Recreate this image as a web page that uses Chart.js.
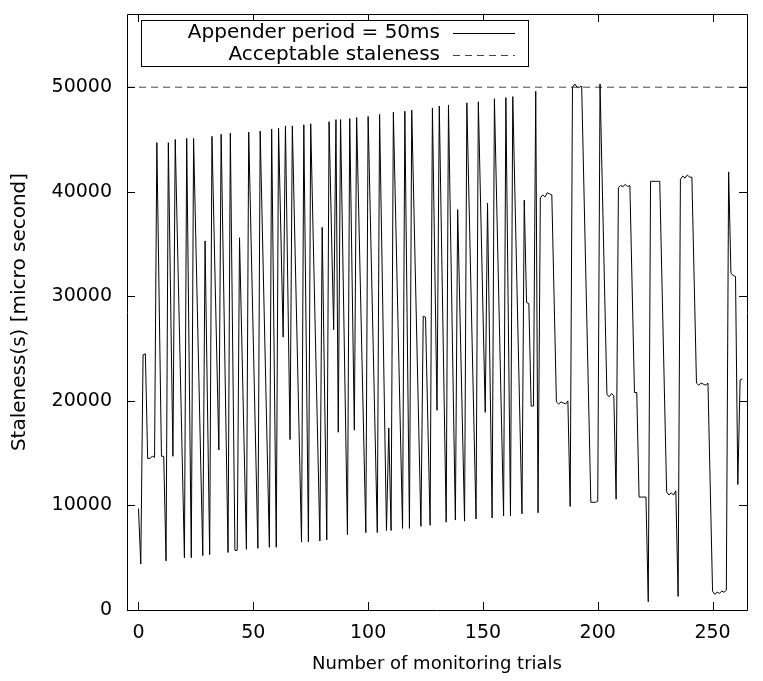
<!DOCTYPE html>
<html>
<head>
<meta charset="utf-8">
<title>Staleness</title>
<script src="https://cdn.jsdelivr.net/npm/chart.js@4.4.1/dist/chart.umd.min.js"></script>
<style>
  html, body { margin: 0; padding: 0; background: #fff; }
</style>
</head>
<body>
<canvas id="stalenessChart" width="763" height="681"></canvas>
<script>
// --------------------- DATA ------------------------
// turning points of the measured staleness curve (trial number -> micro seconds)
const trials = [
    0, 1, 2, 3, 4, 5, 6, 7, 8, 10, 11, 12, 13, 15, 16, 20, 21, 23, 24, 28,
    29, 31, 32, 35, 36, 39, 40, 42, 43, 44, 47, 48, 52, 53, 57, 58, 60, 61, 63, 64,
    66, 67, 71, 72, 74, 75, 79, 80, 82, 83, 85, 86, 87, 88, 91, 92, 94, 95, 99, 100,
    104, 105, 108, 109, 110, 111, 115, 116, 118, 119, 123, 124, 125, 127, 128, 130, 131, 134, 135, 138,
    139, 142, 143, 147, 148, 151, 152, 154, 155, 159, 160, 162, 163, 167, 168, 169, 170, 171, 172, 173,
    174, 175, 176, 177, 178, 179, 180, 182, 183, 184, 185, 186, 187, 188, 189, 190, 191, 192, 193, 197,
    198, 199, 200, 201, 204, 205, 206, 207, 208, 209, 210, 211, 212, 213, 214, 216, 217, 218, 219, 220,
    221, 222, 223, 224, 225, 226, 227, 230, 231, 232, 233, 234, 235, 236, 237, 238, 239, 240, 241, 243,
    244, 245, 246, 247, 248, 250, 251, 252, 253, 254, 255, 256, 257, 258, 259, 260, 261, 262, 263
];
const staleness = [
    9700, 4400, 24400, 24500, 14500, 14500, 14700, 14600, 44700, 14700, 14700, 4700, 44700, 14700, 45000, 5000, 45100, 5000, 45100, 5200,
    35300, 5300, 45300, 15300, 45500, 5500, 45600, 5700, 5700, 35600, 5800, 45700, 5900, 45800, 6000, 46000, 6000, 46100, 26100, 46300,
    16300, 46300, 6500, 46400, 6500, 46500, 6600, 36600, 6700, 46700, 26800, 46900, 17000, 46900, 7200, 47000, 17200, 47100, 7400, 47200,
    7400, 47400, 7600, 17400, 7600, 47600, 7800, 47700, 7800, 47800, 8000, 28100, 28000, 8100, 48000, 19100, 48200, 8400, 48300, 8600,
    38300, 8500, 48500, 8700, 48600, 18900, 38900, 8800, 48900, 9000, 49000, 9000, 49100, 9200, 39200, 29400, 29300, 19500, 19500, 49600,
    9300, 39400, 39700, 39500, 39900, 39800, 39700, 19900, 19700, 19900, 19800, 19700, 20000, 9900, 50000, 50300, 50000, 50000, 50100, 10300,
    10300, 10300, 10400, 50300, 20600, 20400, 20700, 20500, 10600, 40400, 40600, 40500, 40700, 40500, 40600, 20800, 20800, 10800, 10800, 10800,
    10800, 800, 41000, 41000, 41000, 41000, 41000, 11300, 11000, 11200, 11000, 11400, 1300, 41200, 41500, 41300, 41600, 41400, 41400, 21700,
    21500, 21700, 21600, 21500, 21700, 1800, 1500, 1700, 1600, 1800, 1700, 1900, 41900, 32200, 32000, 31900, 12000, 22000, 22100
];
const acceptableStaleness = 50000;

const xRange = [-5, 265];
const yRange = [0, 57000];
const xTicks = [0, 50, 100, 150, 200, 250];
const yTicks = [0, 10000, 20000, 30000, 40000, 50000];

const FAMILY = '"DejaVu Sans", Verdana, sans-serif';
const TICK_FONT = { family: FAMILY, size: 19 };
const KEY_FONT = { family: FAMILY, size: 20 };
const X_TITLE_FONT = { family: FAMILY, size: 18 };
const Y_TITLE_FONT = { family: FAMILY, size: 20 };

// --------------------- GNUPLOT STYLE FRAME + KEY ------------------------
const gnuplotFrame = {
    id: 'gnuplotFrame',
    afterDatasetsDraw(chart) {
        const { ctx, chartArea: a, scales } = chart;
        const tick = 8;
        ctx.save();
        ctx.strokeStyle = '#000';
        ctx.lineWidth = 1;
        ctx.beginPath();
        ctx.rect(a.left + 0.5, a.top + 0.5, a.right - a.left, a.bottom - a.top);
        // ticks on all four sides, pointing inward
        scales.x.ticks.forEach(t => {
            let px = Math.round(scales.x.getPixelForValue(t.value)) + 0.5;
            ctx.moveTo(px, a.bottom); ctx.lineTo(px, a.bottom - tick);
            ctx.moveTo(px, a.top); ctx.lineTo(px, a.top + tick);
        });
        scales.y.ticks.forEach(t => {
            let py = Math.round(scales.y.getPixelForValue(t.value)) + 0.5;
            ctx.moveTo(a.left, py); ctx.lineTo(a.left + tick, py);
            ctx.moveTo(a.right, py); ctx.lineTo(a.right - tick, py);
        });
        ctx.stroke();

        // key box in the upper left corner
        const bx = a.left + 14, by = a.top + 6, bw = 387, bh = 46;
        ctx.fillStyle = '#fff';
        ctx.fillRect(bx, by, bw, bh);
        ctx.strokeRect(bx + 0.5, by + 0.5, bw, bh);
        ctx.font = KEY_FONT.size + 'px ' + FAMILY;
        ctx.textAlign = 'right';
        ctx.textBaseline = 'middle';
        ctx.fillStyle = '#000';
        chart.data.datasets.forEach((ds, i) => {
            let rowY = by + 13 + i * 22;
            ctx.fillText(ds.label, bx + 299, rowY);
            ctx.beginPath();
            ctx.strokeStyle = ds.borderColor;
            ctx.lineWidth = ds.borderWidth;
            ctx.setLineDash(ds.borderDash || []);
            ctx.moveTo(bx + 312, Math.round(rowY) + 0.5);
            ctx.lineTo(bx + 374, Math.round(rowY) + 0.5);
            ctx.stroke();
            ctx.setLineDash([]);
        });
        ctx.restore();
    }
};

// --------------------- CHART ------------------------
const ctx = document.getElementById('stalenessChart').getContext('2d');
let stalenessChart = new Chart(ctx, {
    type: 'line',
    data: {
        datasets: [{
            label: 'Appender period = 50ms',
            data: trials.map((t, i) => ({ x: t, y: staleness[i] })),
            borderColor: '#000',
            borderWidth: 1,
            pointRadius: 0,
            tension: 0
        }, {
            label: 'Acceptable staleness',
            data: xRange.map(v => ({ x: v, y: acceptableStaleness })),
            borderColor: '#444',
            borderWidth: 1,
            borderDash: [7, 5],
            pointRadius: 0
        }]
    },
    options: {
        responsive: false,
        animation: false,
        devicePixelRatio: 1,
        layout: { padding: { top: 14, right: 16, left: 0, bottom: 0 } },
        plugins: { legend: { display: false }, tooltip: { enabled: false } },
        scales: {
            x: {
                type: 'linear',
                min: xRange[0],
                max: xRange[1],
                afterBuildTicks: s => { s.ticks = xTicks.map(v => ({ value: v })); },
                afterFit: s => { s.height = 71; s.paddingLeft = 0; s.paddingRight = 0; },
                grid: { display: false, drawTicks: false },
                border: { display: false },
                ticks: { color: '#000', font: TICK_FONT, padding: 12, maxRotation: 0, autoSkip: false, callback: v => String(v) },
                title: { display: true, text: 'Number of monitoring trials', color: '#000', font: X_TITLE_FONT, padding: { top: 0, bottom: 6 } }
            },
            y: {
                type: 'linear',
                min: yRange[0],
                max: yRange[1],
                afterBuildTicks: s => { s.ticks = yTicks.map(v => ({ value: v })); },
                afterFit: s => { s.width = 127; s.paddingTop = 0; s.paddingBottom = 0; },
                grid: { display: false, drawTicks: false },
                border: { display: false },
                ticks: { color: '#000', font: TICK_FONT, padding: 15, autoSkip: false, callback: v => String(v) },
                title: { display: true, text: 'Staleness(s) [micro second]', color: '#000', font: Y_TITLE_FONT, padding: { top: 8, bottom: 0 } }
            }
        }
    },
    plugins: [gnuplotFrame]
});
</script>
</body>
</html>
